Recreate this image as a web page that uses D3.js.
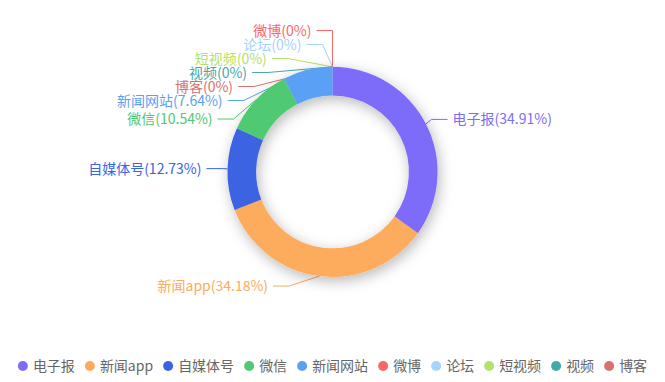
<!DOCTYPE html>
<html>
<head>
<meta charset="utf-8">
<script src="https://cdn.jsdelivr.net/npm/d3@7"></script>
<style>
  html, body { margin: 0; padding: 0; background: #fff; }
  svg text { font-family: "Microsoft YaHei", "Noto Sans CJK SC", sans-serif; }
</style>
</head>
<body>
<div id="chart"></div>
<script>
// source distribution (percent)
var categories = ["电子报", "新闻app", "自媒体号", "微信", "新闻网站", "微博", "论坛", "短视频", "视频", "博客"];
var values = [34.91, 34.18, 12.73, 10.54, 7.64, 0, 0, 0, 0, 0];
var colors = ["#7c6cf9", "#fdab5c", "#3a64e2", "#4fc972", "#5aa1f6", "#f96767", "#a6d3fd", "#b3e26c", "#46a8ab", "#d87170"];

var width = 665, height = 382;
var cx = width / 2, cy = height * 0.45;
var base = Math.min(width, height) / 2;
var rOuter = base * 0.55, rInner = base * 0.40;

// label line settings
var len = 10, len2 = 16, labelDist = 5, labelH = 14;

var svg = d3.select("#chart").append("svg")
    .attr("width", width)
    .attr("height", height);

var defs = svg.append("defs");
defs.append("filter")
    .attr("id", "ringShadow")
    .attr("x", "-30%").attr("y", "-30%")
    .attr("width", "160%").attr("height", "160%")
    .append("feDropShadow")
    .attr("dx", 2).attr("dy", 4)
    .attr("stdDeviation", 7)
    .attr("flood-color", "#000")
    .attr("flood-opacity", 0.28);

var pie = d3.pie().sort(null).value(function (d) { return d; });
var arcs = pie(values);
var total = d3.sum(values);

var arc = d3.arc().innerRadius(rInner).outerRadius(rOuter);

//Build label layout items (same idea as echarts outer labels)
var items = arcs.map(function (d, i) {
    var mid = (d.startAngle + d.endAngle) / 2;
    var dx = Math.sin(mid), dy = -Math.cos(mid);
    var dir = dx > 1e-6 ? 1 : -1;
    var x1 = cx + rOuter * dx, y1 = cy + rOuter * dy;
    var x2 = x1 + dx * len, y2 = y1 + dy * len;
    var x3 = x2 + dir * len2;
    return { i: i, dir: dir, x1: x1, y1: y1, x: x3 + dir * labelDist, y: y2, len: len, len2: len2, height: labelH };
});

function adjustSingleSide(list, dir) {
    list.sort(function (a, b) { return a.y - b.y; });

    function shiftDown(start, end, delta) {
        for (var j = start; j < end; j++) {
            if (list[j].y + delta > height) break;
            list[j].y += delta;
            if (j > start && j + 1 < end && list[j + 1].y > list[j].y + list[j].height) {
                shiftUp(j, delta / 2);
                return;
            }
        }
        shiftUp(end - 1, delta / 2);
    }

    function shiftUp(end, delta) {
        for (var j = end; j >= 0; j--) {
            if (list[j].y - delta < 0) break;
            list[j].y -= delta;
            if (j > 0 && list[j].y > list[j - 1].y + list[j - 1].height) break;
        }
    }

    function changeX(sub, isDown) {
        var lastDeltaX = isDown ? Number.MAX_VALUE : 0;
        for (var i = 0; i < sub.length; i++) {
            var deltaY = Math.abs(sub[i].y - cy);
            var R = rOuter + sub[i].len + sub[i].len2;
            var deltaX = deltaY < rOuter + sub[i].len
                ? Math.sqrt(R * R - deltaY * deltaY)
                : Math.abs(sub[i].x - cx);
            if (isDown && deltaX >= lastDeltaX) deltaX = lastDeltaX - 10;
            if (!isDown && deltaX <= lastDeltaX) deltaX = lastDeltaX + 10;
            sub[i].x = cx + deltaX * dir;
            lastDeltaX = deltaX;
        }
    }

    var lastY = 0, delta;
    for (var i = 0; i < list.length; i++) {
        delta = list[i].y - lastY;
        if (delta < 0) shiftDown(i, list.length, -delta);
        lastY = list[i].y + list[i].height;
    }
    if (height - lastY < 0) shiftUp(list.length - 1, lastY - height);

    var upList = [], downList = [];
    list.forEach(function (d) {
        if (d.y >= cy) downList.push(d); else upList.push(d);
    });
    changeX(upList, false);
    changeX(downList, true);
}

adjustSingleSide(items.filter(function (d) { return d.dir > 0; }), 1);
adjustSingleSide(items.filter(function (d) { return d.dir < 0; }), -1);

items.forEach(function (d) {
    var p2x = d.x - d.dir * labelDist;
    var p1x = p2x - d.dir * d.len2;
    d.points = [[d.x1, d.y1], [p1x, d.y], [p2x, d.y]];
});

//Label lines (below the ring)
svg.append("g")
    .selectAll("polyline")
    .data(items)
    .enter()
    .append("polyline")
    .attr("points", function (d) { return d.points.map(function (p) { return p.join(","); }).join(" "); })
    .attr("fill", "none")
    .attr("stroke", function (d) { return colors[d.i]; })
    .attr("stroke-width", 1);

//Ring
svg.append("g")
    .attr("transform", "translate(" + cx + "," + cy + ")")
    .attr("filter", "url(#ringShadow)")
    .selectAll("path")
    .data(arcs)
    .enter()
    .append("path")
    .attr("d", arc)
    .attr("fill", function (d, i) { return colors[i]; });

//Label texts
svg.append("g")
    .selectAll("text")
    .data(items)
    .enter()
    .append("text")
    .attr("x", function (d) { return d.x; })
    .attr("y", function (d) { return d.y; })
    .attr("dy", "0.36em")
    .attr("text-anchor", function (d) { return d.dir > 0 ? "start" : "end"; })
    .attr("font-size", "14px")
    .attr("fill", function (d) { return colors[d.i]; })
    .text(function (d) {
        var pct = +(values[d.i] / total * 100).toFixed(2);
        return categories[d.i] + "(" + pct + "%)";
    });

//Legend at the bottom, centered
var legendY = 366, markR = 5, textGap = 5, itemGap = 10;
var legend = svg.append("g");
var legendItems = legend.selectAll("g")
    .data(categories)
    .enter()
    .append("g");

legendItems.append("circle")
    .attr("r", markR)
    .attr("cx", markR)
    .attr("cy", legendY)
    .attr("fill", function (d, i) { return colors[i]; });

legendItems.append("text")
    .attr("x", markR * 2 + textGap)
    .attr("y", legendY)
    .attr("dy", "0.36em")
    .attr("font-size", "14px")
    .attr("fill", "#666")
    .text(function (d) { return d; });

var widths = [];
legendItems.each(function () {
    widths.push(markR * 2 + textGap + d3.select(this).select("text").node().getComputedTextLength());
});
var legendTotal = d3.sum(widths) + itemGap * (widths.length - 1);
var lx = (width - legendTotal) / 2;
legendItems.attr("transform", function (d, i) {
    var x = lx;
    lx += widths[i] + itemGap;
    return "translate(" + x + ",0)";
});
</script>
</body>
</html>
